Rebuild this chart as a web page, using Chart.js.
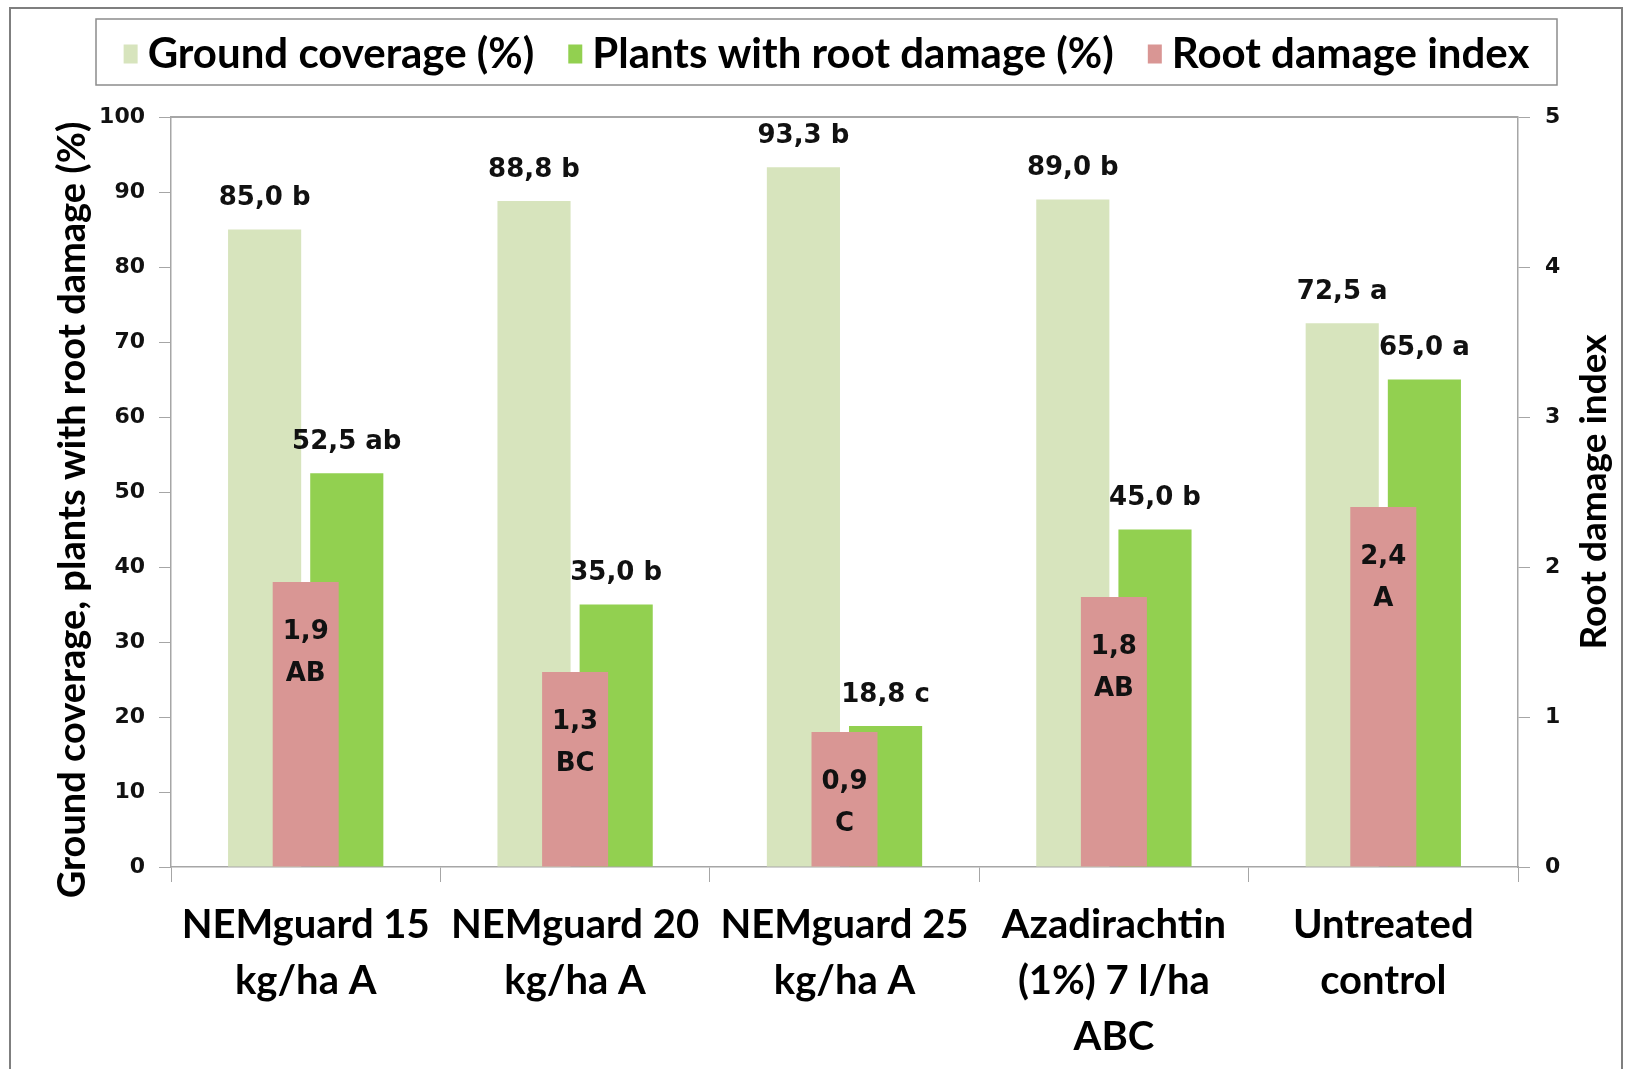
<!DOCTYPE html>
<html>
<head>
<meta charset="utf-8">
<script src="https://cdn.jsdelivr.net/npm/chart.js@4.4.1/dist/chart.umd.min.js"></script>
<style>
  html, body { margin: 0; padding: 0; background: #fff; overflow: hidden; }
  #wrap { width: 1628px; height: 1069px; position: relative; }
</style>
</head>
<body>
<div id="wrap"><canvas id="rootChart"></canvas></div>
<script>
// treatments (x axis, wrapped over lines)
const categories = [
  ['NEMguard 15', 'kg/ha A'],
  ['NEMguard 20', 'kg/ha A'],
  ['NEMguard 25', 'kg/ha A'],
  ['Azadirachtin', '(1%) 7 l/ha', 'ABC'],
  ['Untreated', 'control']
];
const groundCoverage = [85.0, 88.8, 93.3, 89.0, 72.5];
const groundLetters = ['b', 'b', 'b', 'b', 'a'];
const plantsDamaged = [52.5, 35.0, 18.8, 45.0, 65.0];
const plantsLetters = ['ab', 'b', 'c', 'b', 'a'];
const damageIndex = [1.9, 1.3, 0.9, 1.8, 2.4];
const indexLetters = ['AB', 'BC', 'C', 'AB', 'A'];
const leftTicks = [0, 10, 20, 30, 40, 50, 60, 70, 80, 90, 100];
const rightTicks = [0, 1, 2, 3, 4, 5];

const LABEL_FONT = 'bold 26px "DejaVu Sans"';
const CAL = 'Lato';
const AXIS_GREY = '#a6a6a6';

function fmt(v) { return v.toFixed(1).replace('.', ','); }

// value labels above / inside the bars
const barLabels = {
  id: 'barLabels',
  afterDatasetsDraw(chart) {
    const ctx = chart.ctx;
    ctx.save();
    ctx.font = LABEL_FONT;
    ctx.fillStyle = '#111';
    ctx.textAlign = 'center';
    ctx.textBaseline = 'middle';
    const letters = [groundLetters, plantsLetters];
    [0, 1].forEach(di => {
      chart.getDatasetMeta(di).data.forEach((bar, i) => {
        const v = chart.data.datasets[di].data[i];
        ctx.fillText(fmt(v) + ' ' + letters[di][i], bar.x, bar.y - 31);
      });
    });
    chart.getDatasetMeta(2).data.forEach((bar, i) => {
      const v = chart.data.datasets[2].data[i];
      ctx.fillText(fmt(v), bar.x, bar.y + 50);
      ctx.fillText(indexLetters[i], bar.x, bar.y + 92);
    });
    ctx.restore();
  }
};

// frame, legend box, top border line, axis titles
const decorations = {
  id: 'decorations',
  beforeDraw(chart) {
    const ctx = chart.ctx;
    ctx.save();
    ctx.fillStyle = '#fff';
    ctx.fillRect(0, 0, chart.width, chart.height);
    ctx.strokeStyle = '#7f7f7f';
    ctx.lineWidth = 2;
    ctx.strokeRect(10, 8, 1612, 1100);
    ctx.restore();
  },
  afterDraw(chart) {
    const ctx = chart.ctx;
    const a = chart.chartArea;
    ctx.save();
    // top border of plot area
    ctx.strokeStyle = AXIS_GREY;
    ctx.lineWidth = 2;
    ctx.beginPath();
    ctx.moveTo(a.left, a.top);
    ctx.lineTo(a.right, a.top);
    ctx.stroke();

    // legend
    const box = { l: 96, t: 19, r: 1557, b: 85 };
    ctx.strokeStyle = '#8c8c8c';
    ctx.lineWidth = 1.5;
    ctx.strokeRect(box.l, box.t, box.r - box.l, box.b - box.t);
    ctx.font = 'bold 42px ' + CAL;
    const sw = 14, sh = 19, gapText = 10, gapItem = 34;
    const items = chart.data.datasets.map(d => ({ text: d.label, color: d.backgroundColor, w: ctx.measureText(d.label).width }));
    let total = items.reduce((s, it) => s + sw + gapText + it.w, 0) + gapItem * (items.length - 1);
    let x = (box.l + box.r) / 2 - total / 2;
    const cy = (box.t + box.b) / 2;
    ctx.textBaseline = 'middle';
    ctx.textAlign = 'left';
    items.forEach(it => {
      ctx.fillStyle = it.color;
      ctx.fillRect(x, cy - sh / 2 + 2, sw, sh);
      x += sw + gapText;
      ctx.fillStyle = '#000';
      ctx.fillText(it.text, x, cy + 2);
      x += it.w + gapItem;
    });
    ctx.restore();

    // axis titles, both reading bottom-to-top
    const titles = [
      { text: 'Ground coverage, plants with root damage (%)', x: 73, y: 510, size: 38 },
      { text: 'Root damage index', x: 1594, y: (a.top + a.bottom) / 2, size: 37 }
    ];
    titles.forEach(t => {
      ctx.save();
      ctx.translate(t.x, t.y);
      ctx.rotate(-Math.PI / 2);
      ctx.font = 'bold ' + t.size + 'px ' + CAL;
      ctx.textAlign = 'center';
      ctx.textBaseline = 'middle';
      ctx.fillStyle = '#000';
      ctx.fillText(t.text, 0, 0);
      ctx.restore();
    });
  }
};

document.addEventListener('DOMContentLoaded', function () {
  const ctx = document.getElementById('rootChart').getContext('2d');
  new Chart(ctx, {
    type: 'bar',
    data: {
      labels: categories,
      datasets: [{
        label: 'Ground coverage (%)',
        data: groundCoverage,
        backgroundColor: '#d7e4bd',
        yAxisID: 'y',
        order: 1,
        categoryPercentage: 0.61,
        barPercentage: 0.89
      }, {
        label: 'Plants with root damage (%)',
        data: plantsDamaged,
        backgroundColor: '#92d050',
        yAxisID: 'y',
        order: 1,
        categoryPercentage: 0.61,
        barPercentage: 0.89
      }, {
        label: 'Root damage index',
        data: damageIndex,
        backgroundColor: '#d99694',
        yAxisID: 'y2',
        order: 0,
        grouped: false,
        categoryPercentage: 0.245,
        barPercentage: 1
      }]
    },
    options: {
      responsive: true,
      maintainAspectRatio: false,
      devicePixelRatio: 1,
      animation: false,
      layout: { padding: { top: 117, right: 0, bottom: 0, left: 0 } },
      plugins: {
        legend: { display: false },
        tooltip: { enabled: false }
      },
      scales: {
        x: {
          type: 'category',
          offset: true,
          afterFit(scale) { scale.height = 202; },
          grid: { offset: true, drawOnChartArea: false, drawTicks: true, tickLength: 15, color: AXIS_GREY },
          border: { color: AXIS_GREY, width: 1.5 },
          ticks: {
            autoSkip: false,
            maxRotation: 0,
            minRotation: 0,
            padding: 15,
            color: '#000',
            font: { family: CAL, size: 40, weight: 'bold', lineHeight: 1.4 }
          }
        },
        y: {
          position: 'left',
          min: leftTicks[0],
          max: leftTicks[leftTicks.length - 1],
          afterFit(scale) { scale.width = 171; },
          afterBuildTicks(scale) { scale.ticks = leftTicks.map(v => ({ value: v })); },
          grid: { drawOnChartArea: false, tickLength: 12, color: AXIS_GREY },
          border: { color: AXIS_GREY, width: 1.5 },
          ticks: {
            padding: 14,
            color: '#111',
            font: { family: 'DejaVu Sans', size: 22, weight: 'bold' }
          }
        },
        y2: {
          position: 'right',
          min: rightTicks[0],
          max: rightTicks[rightTicks.length - 1],
          afterFit(scale) { scale.width = 110; },
          afterBuildTicks(scale) { scale.ticks = rightTicks.map(v => ({ value: v })); },
          grid: { drawOnChartArea: false, tickLength: 12, color: AXIS_GREY },
          border: { color: AXIS_GREY, width: 1.5 },
          ticks: {
            padding: 15,
            color: '#111',
            font: { family: 'DejaVu Sans', size: 22, weight: 'bold' }
          }
        }
      }
    },
    plugins: [decorations, barLabels]
  });
});
</script>
</body>
</html>
